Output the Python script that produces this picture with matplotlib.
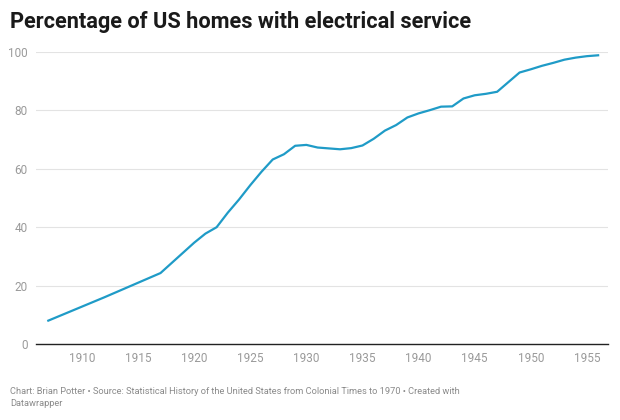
import matplotlib
matplotlib.use('Agg')
import matplotlib.pyplot as plt

plt.rcParams['font.family'] = ['Roboto', 'DejaVu Sans']

years = [1907, 1912, 1917, 1920, 1921, 1922, 1923, 1924, 1925, 1926,
         1927, 1928, 1929, 1930, 1931, 1932, 1933, 1934, 1935, 1936,
         1937, 1938, 1939, 1940, 1941, 1942, 1943, 1944, 1945, 1946,
         1947, 1948, 1949, 1950, 1951, 1952, 1953, 1954, 1955, 1956]
pct = [8.0, 16.0, 24.3, 34.7, 37.8, 40.0, 45.0, 49.5, 54.4, 59.0,
       63.2, 65.0, 67.9, 68.2, 67.3, 67.0, 66.7, 67.1, 68.0, 70.3,
       73.1, 75.0, 77.6, 79.0, 80.1, 81.3, 81.4, 84.1, 85.2, 85.7,
       86.4, 89.7, 93.0, 94.1, 95.3, 96.3, 97.4, 98.1, 98.6, 98.9]
x_ticks = [1910, 1915, 1920, 1925, 1930, 1935, 1940, 1945, 1950, 1955]
y_ticks = [0, 20, 40, 60, 80, 100]

title = 'Percentage of US homes with electrical service'
footer = ('Chart: Brian Potter \u2022 Source: Statistical History of the United States '
          'from Colonial Times to 1970 \u2022 Created with\nDatawrapper')


def main():
    fig = plt.figure(figsize=(6.2, 4.2), dpi=100)
    ax = fig.add_axes([0.058, 0.181, 0.923, 0.695])

    ax.plot(years, pct, color='#1f9bc7', linewidth=1.6, solid_joinstyle='round')

    ax.set_xlim(1905.9, 1956.9)
    ax.set_ylim(0, 100)
    ax.set_xticks(x_ticks)
    ax.set_yticks(y_ticks)
    ax.grid(axis='y', color='#e3e3e3', linewidth=0.8)
    ax.set_axisbelow(True)
    for side in ['top', 'right', 'left']:
        ax.spines[side].set_visible(False)
    ax.spines['bottom'].set_color('#222222')
    ax.spines['bottom'].set_linewidth(1.0)
    ax.spines['bottom'].set_zorder(3)
    ax.tick_params(length=0, labelsize=8.5, colors='#9a9a9a', pad=6)

    fig.text(0.016, 0.948, title, fontsize=15.7, fontweight='bold',
             color='#1a1a1a', va='center', ha='left')
    fig.text(0.016, 0.028, footer, fontsize=6.7, color='#8a8a8a',
             va='bottom', ha='left', linespacing=1.45)

    fig.savefig('out.png', dpi=100)


if __name__ == '__main__':
    main()
